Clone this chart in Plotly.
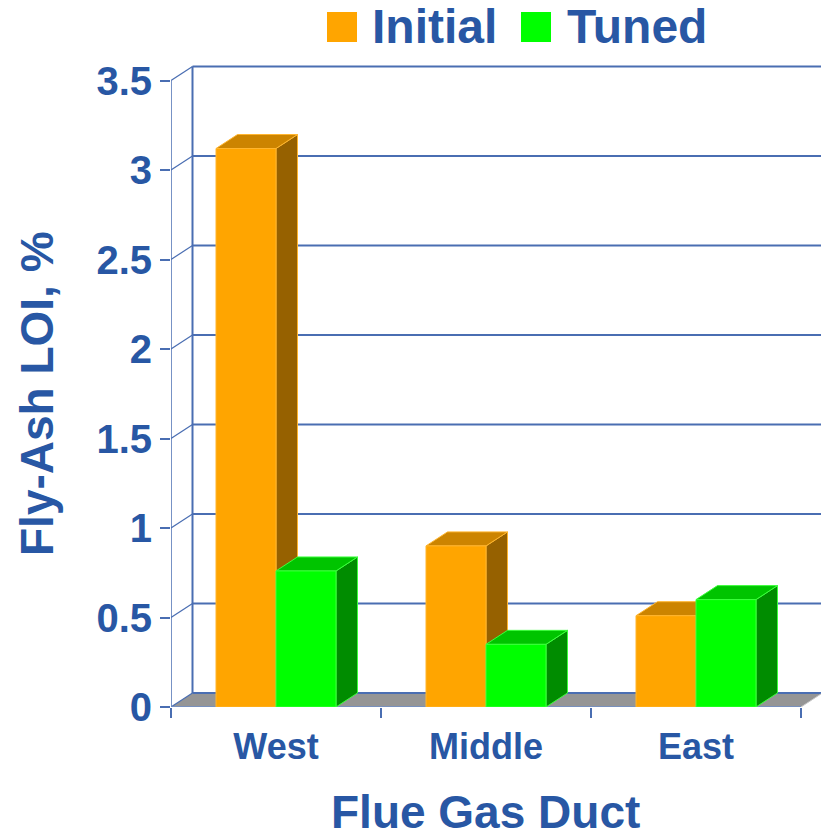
import plotly.graph_objects as go

# ---- data -------------------------------------------------------------
categories = ["West", "Middle", "East"]
initial = [3.12, 0.90, 0.51]
tuned = [0.76, 0.35, 0.60]
y_ticks = [0, 0.5, 1, 1.5, 2, 2.5, 3, 3.5]
series_names = ["Initial", "Tuned"]

# ---- geometry (pixel scale of the pseudo-3D frame) --------------------
W, H = 821, 838
ML, MR, MT, MB = 171, 0, 40, 131
PX_PER_CAT = 210
PX_PER_UNIT = 179
plot_w = W - ML - MR
plot_h = H - MT - MB
x_max = plot_w / PX_PER_CAT
y_max = plot_h / PX_PER_UNIT
DX = 21.5 / PX_PER_CAT      # depth offset, x
DY = 14 / PX_PER_UNIT       # depth offset, y
BAR_W = 60 / PX_PER_CAT
Y_TOP = y_ticks[-1]
N = len(categories)

TEXT = "#2857A4"
GRID = "#4A6EB2"
FONT = "Liberation Sans, Arial, sans-serif"

palette = {
    "Initial": dict(front="#FFA500", top="#CC8400", side="#966100", edge="#FFB52E"),
    "Tuned": dict(front="#00FF00", top="#00C400", side="#008C00", edge="#3CFF3C"),
}

fig = go.Figure()


def poly(xs, ys, fill, line_color=None, width=0):
    fig.add_trace(go.Scatter(
        x=list(xs) + [xs[0]], y=list(ys) + [ys[0]],
        mode="lines", fill="toself", fillcolor=fill,
        line=dict(color=line_color or fill, width=width),
        hoverinfo="skip", showlegend=False,
    ))


def seg(xs, ys, color=GRID, width=1.5):
    fig.add_trace(go.Scatter(
        x=xs, y=ys, mode="lines", line=dict(color=color, width=width),
        hoverinfo="skip", showlegend=False,
    ))


# floor
poly([0, N, N + DX, DX], [0, 0, DY, DY], "#959595")

# back wall gridlines, left wall diagonals
for v in y_ticks:
    seg([DX, x_max], [v + DY, v + DY], width=2)
    seg([0, DX], [v, v + DY], width=1.2)
seg([DX, DX], [DY, Y_TOP + DY], width=2)          # back wall edge
seg([0, 0], [0, Y_TOP], width=1.5)                 # front value axis
seg([0, N], [0, 0], color="#6F8FCB", width=1.5)    # front floor edge
seg([N, N + DX], [0, DY], color="#C8C8C8", width=1)


def box(x0, x1, v, c):
    # side face
    poly([x1, x1, x1 + DX, x1 + DX], [0, v, v + DY, DY], c["side"], c["edge"], 1)
    # top face
    poly([x0, x1, x1 + DX, x0 + DX], [v, v, v + DY, v + DY], c["top"], c["edge"], 1)
    # front face
    poly([x0, x1, x1, x0], [0, 0, v, v], c["front"], c["edge"], 1)


for i, cat in enumerate(categories):
    c = i + 0.5
    box(c - BAR_W, c, initial[i], palette["Initial"])
    box(c, c + BAR_W, tuned[i], palette["Tuned"])


# ---- pixel -> paper helpers for the text/legend placement -------------
def px_x(px):
    return (px - ML) / plot_w


def px_y(py):
    return (H - MB - py) / plot_h


annotations = [
    dict(text="Fly-Ash LOI, %", x=px_x(37), y=px_y(394), textangle=-90,
         font=dict(size=46)),
    dict(text="Flue Gas Duct", x=px_x(485), y=px_y(812), font=dict(size=46)),
]
shapes = []
legend_pos = [(327, 370), (521, 565)]
for name, (sq_x, tx) in zip(series_names, legend_pos):
    shapes.append(dict(type="rect", xref="paper", yref="paper",
                       x0=px_x(sq_x), x1=px_x(sq_x + 30),
                       y0=px_y(42), y1=px_y(12),
                       fillcolor=palette[name]["front"], line=dict(width=0)))
    annotations.append(dict(text=name, x=px_x(tx), y=px_y(26),
                            xanchor="left", font=dict(size=48)))

for a in annotations:
    a.update(xref="paper", yref="paper", showarrow=False)
    a.setdefault("xanchor", "center")
    a["yanchor"] = "middle"
    a["font"].update(family=FONT, color=TEXT, weight="bold")

fig.update_layout(
    width=W, height=H, autosize=False,
    margin=dict(l=ML, r=MR, t=MT, b=MB, pad=0),
    paper_bgcolor="white", plot_bgcolor="white",
    showlegend=False,
    annotations=annotations, shapes=shapes,
    xaxis=dict(
        range=[0, x_max], showgrid=False, zeroline=False, showline=False,
        tickvals=[i + 0.5 for i in range(N)], ticktext=categories,
        ticks="", ticklabelstandoff=15,
        tickfont=dict(family=FONT, size=36, color=TEXT, weight="bold"),
        minor=dict(tickvals=list(range(N + 1)), ticks="outside",
                   ticklen=10, tickcolor=GRID, tickwidth=1.5),
        fixedrange=True,
    ),
    yaxis=dict(
        range=[0, y_max], showgrid=False, zeroline=False, showline=False,
        tickvals=y_ticks, ticks="outside", ticklen=10, tickcolor=GRID,
        tickwidth=1.5,
        tickfont=dict(family=FONT, size=40, color=TEXT, weight="bold"),
        fixedrange=True,
    ),
)

fig.write_html("out.html")
